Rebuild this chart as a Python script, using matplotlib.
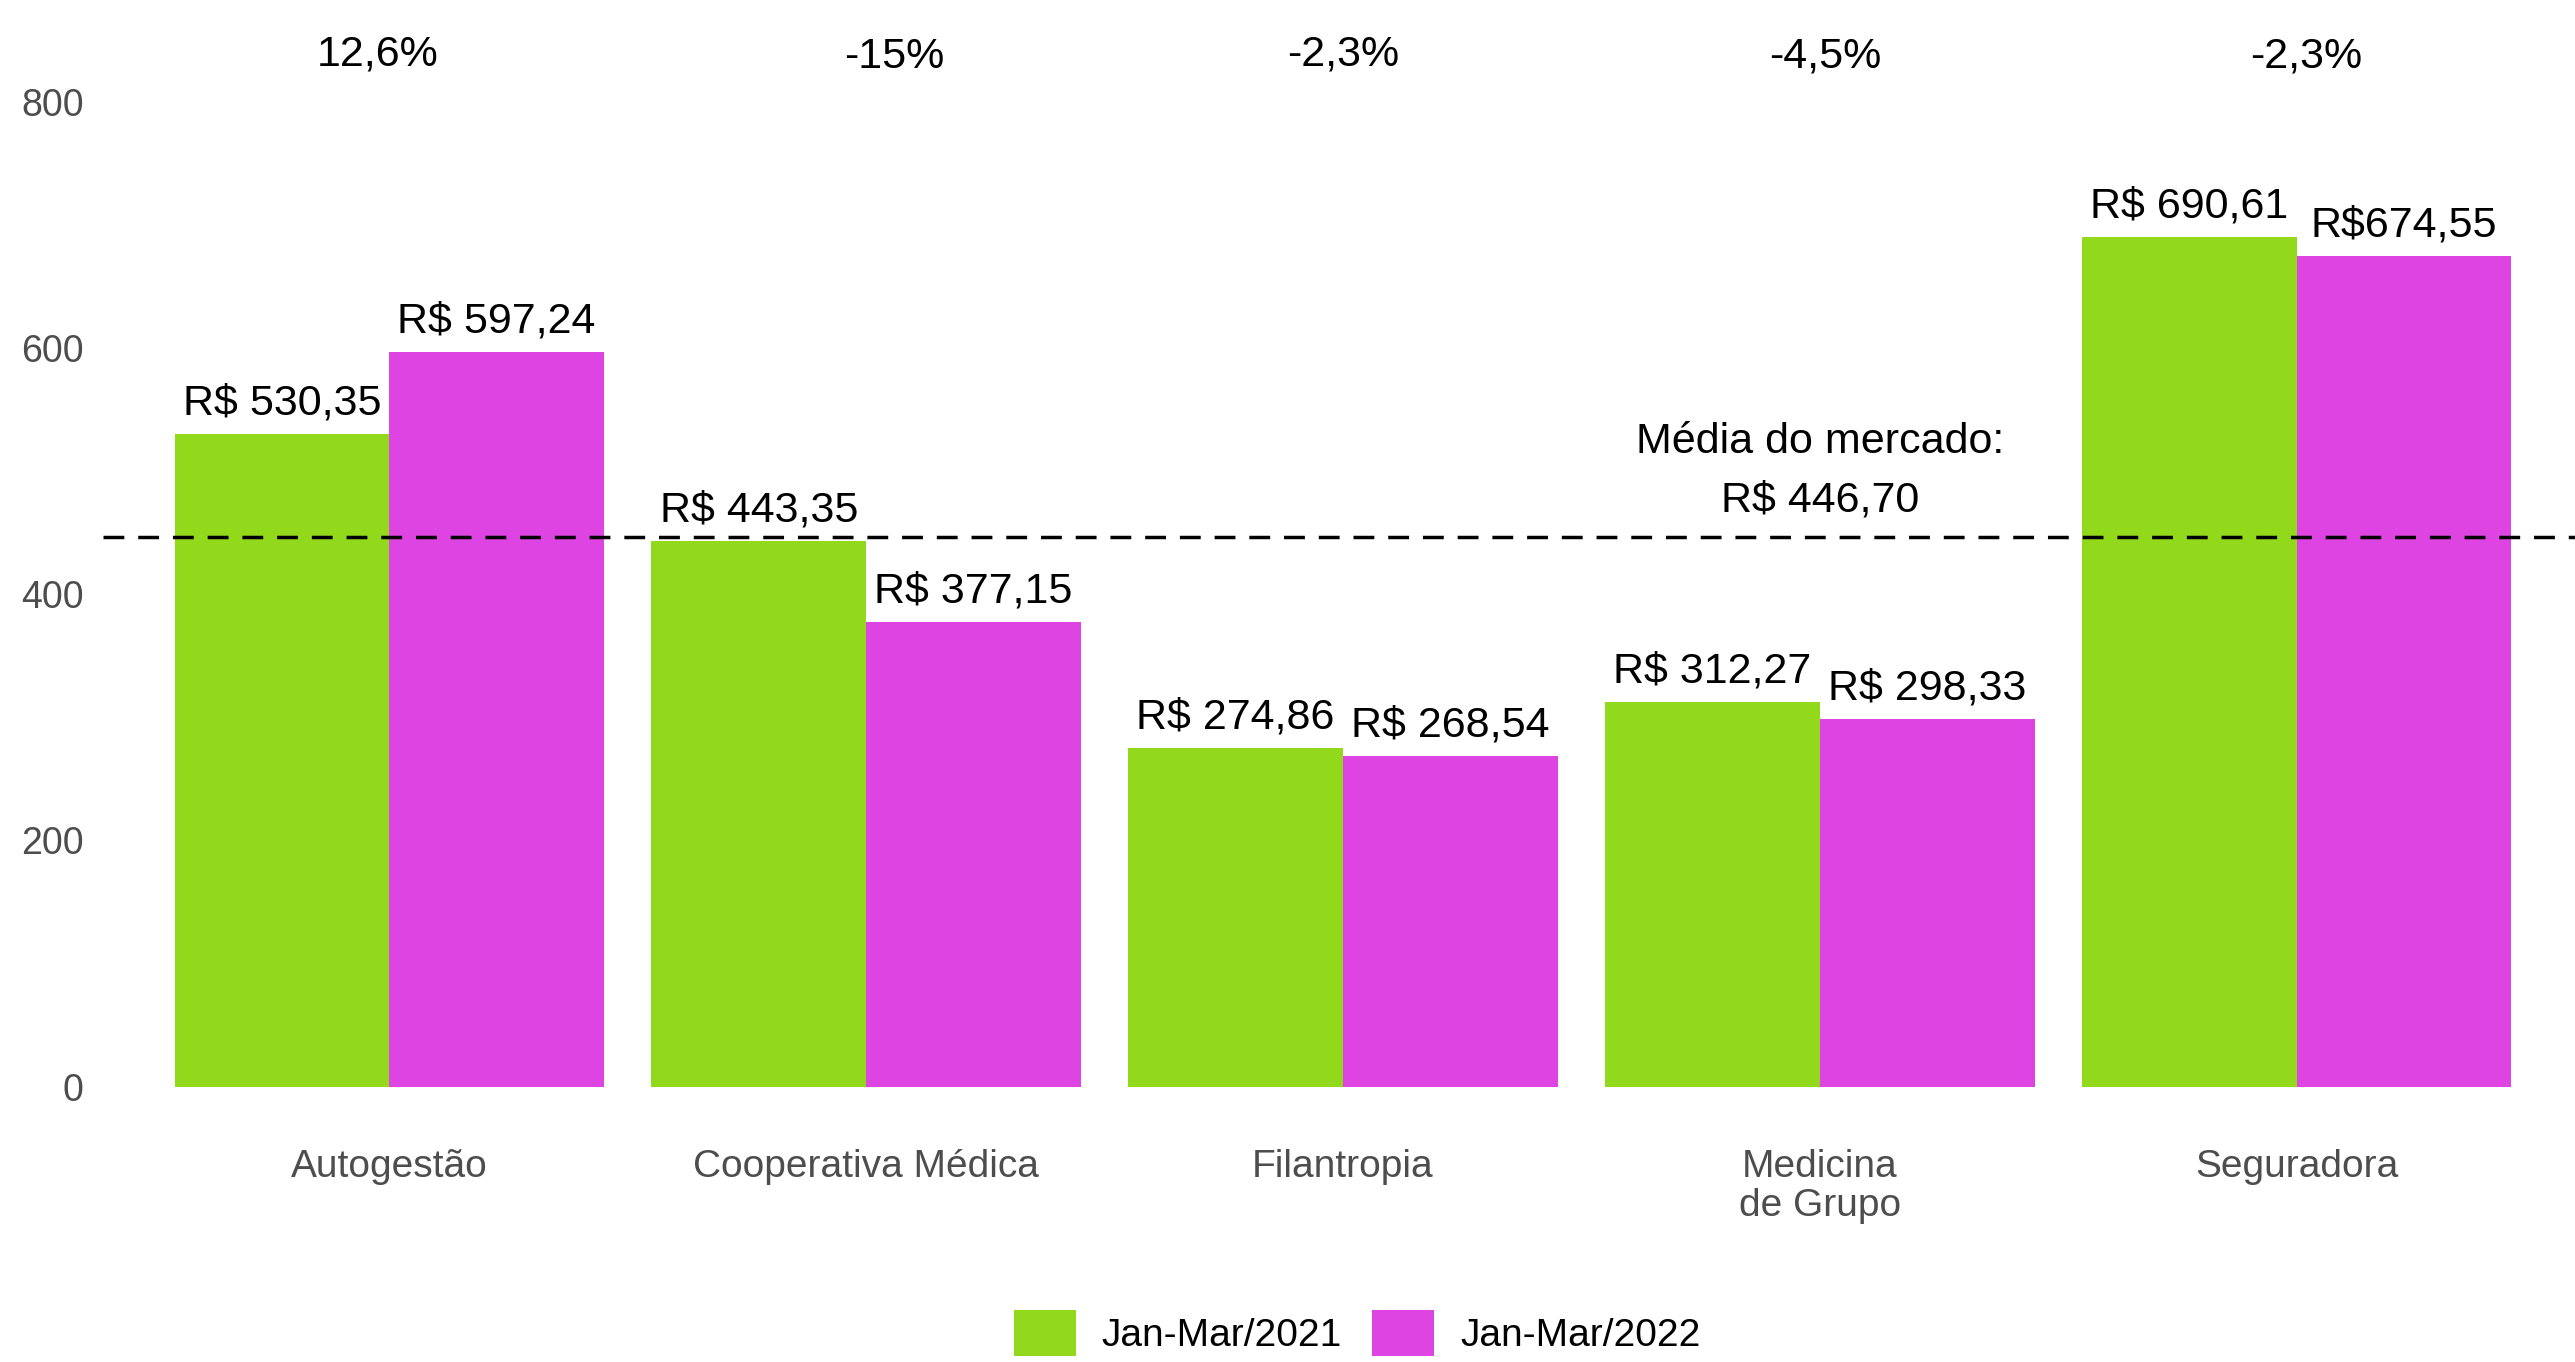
import matplotlib
matplotlib.use("Agg")
import matplotlib.pyplot as plt
import numpy as np

plt.rcParams["font.family"] = ["Liberation Sans", "DejaVu Sans"]

categories = ["Autogestão", "Cooperativa Médica", "Filantropia", "Medicina\nde Grupo", "Seguradora"]
values_2021 = [530.35, 443.35, 274.86, 312.27, 690.61]
values_2022 = [597.24, 377.15, 268.54, 298.33, 674.55]
labels_2021 = ["R$ 530,35", "R$ 443,35", "R$ 274,86", "R$ 312,27", "R$ 690,61"]
labels_2022 = ["R$ 597,24", "R$ 377,15", "R$ 268,54", "R$ 298,33", "R$674,55"]
pct_change = ["12,6%", "-15%", "-2,3%", "-4,5%", "-2,3%"]
market_avg = 446.70
series_names = ["Jan-Mar/2021", "Jan-Mar/2022"]

green = "#92D91B"
magenta = "#DE44E2"
grey = "#4D4D4D"

# deslocamentos (pt) dos rótulos de variação, como no original
pct_dx = [-8, 20, 0, 4, 7]
pct_dy = [0, -2, 0, -2, -2]

fig = plt.figure(figsize=(25.75, 13.62), dpi=100)
ax = fig.add_axes([0.040, 0.2022, 0.9631, 0.7229])

x = np.arange(len(categories))
w = 0.45
b1 = ax.bar(x - w / 2, values_2021, w, color=green, label=series_names[0])
b2 = ax.bar(x + w / 2, values_2022, w, color=magenta, label=series_names[1])

for xi, v, lab in zip(x - w / 2, values_2021, labels_2021):
    ax.annotate(lab, (xi, v), xytext=(0, 14), textcoords="offset points",
                ha="center", va="baseline", fontsize=31, annotation_clip=False)
for xi, v, lab in zip(x + w / 2, values_2022, labels_2022):
    ax.annotate(lab, (xi, v), xytext=(0, 14), textcoords="offset points",
                ha="center", va="baseline", fontsize=31, annotation_clip=False)

# variação percentual no topo
for xi, p, dx, dy in zip(x, pct_change, pct_dx, pct_dy):
    ax.annotate(p, (xi, 830), xytext=(dx, dy), textcoords="offset points",
                ha="center", va="baseline", fontsize=31, annotation_clip=False)

# linha da média do mercado
ax.axhline(market_avg, color="black", linewidth=2.5, dashes=(6, 4))
ax.annotate("R$ 446,70", (3, market_avg), xytext=(0, 18.5), textcoords="offset points",
            ha="center", va="baseline", fontsize=31)
ax.annotate("Média do mercado:", (3, market_avg), xytext=(0, 60.5), textcoords="offset points",
            ha="center", va="baseline", fontsize=31)

ax.set_xlim(-0.6, 4.6)
ax.set_ylim(0, 800)
ax.set_yticks([0, 200, 400, 600, 800])
ax.set_xticks(x)
ax.set_xticklabels(categories)
for lab in ax.get_xticklabels():
    lab.set_linespacing(1.1)
ax.tick_params(axis="x", length=0, pad=45, labelsize=28, labelcolor=grey)
ax.tick_params(axis="y", length=0, pad=14, labelsize=27, labelcolor=grey)
for s in ax.spines.values():
    s.set_visible(False)

fig.legend(handles=[b1, b2], loc="center", bbox_to_anchor=(0.527, 0.021), ncol=2,
           frameon=False, fontsize=28, handlelength=1.6, handleheight=1.45,
           handletextpad=0.67, columnspacing=0.76, borderaxespad=0)

fig.savefig("out.png", dpi=100)
